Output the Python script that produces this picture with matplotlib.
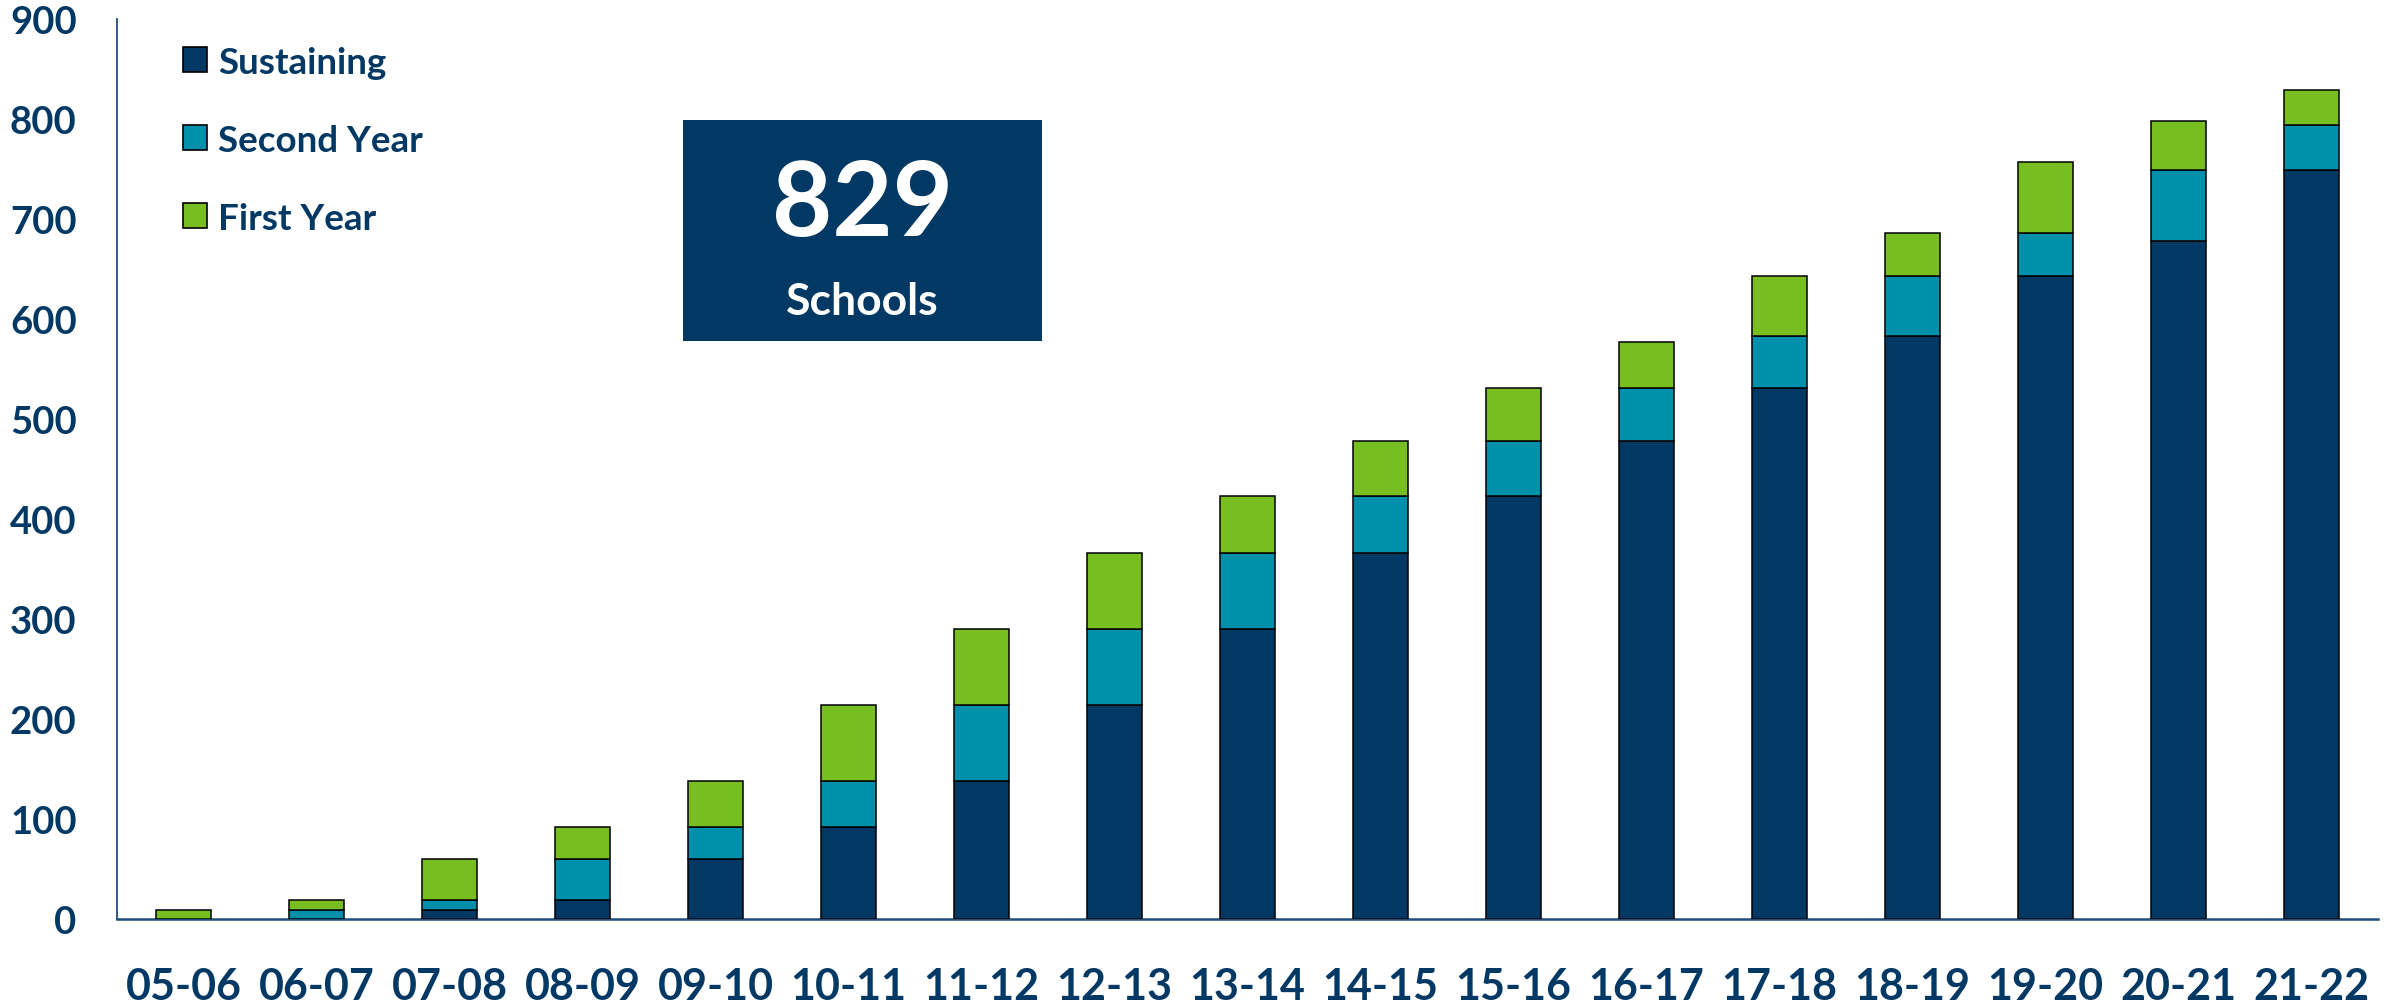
import matplotlib
matplotlib.use("Agg")
import matplotlib.pyplot as plt
import numpy as np
from matplotlib.patches import Patch, Rectangle

years = ["05-06", "06-07", "07-08", "08-09", "09-10", "10-11", "11-12", "12-13",
         "13-14", "14-15", "15-16", "16-17", "17-18", "18-19", "19-20", "20-21", "21-22"]
sustaining = [0, 0, 9, 19, 60, 92, 138, 214, 290, 366, 423, 478, 531, 583, 643, 678, 749]
second_year = [0, 9, 10, 41, 32, 46, 76, 76, 76, 57, 55, 53, 52, 60, 43, 71, 45]
first_year = [9, 10, 41, 32, 46, 76, 76, 76, 57, 55, 53, 46, 60, 43, 71, 49, 35]
series_names = ["Sustaining", "Second Year", "First Year"]
y_ticks = [0, 100, 200, 300, 400, 500, 600, 700, 800, 900]
total_label = "829"
total_sub = "Schools"

NAVY = "#023864"
TEAL = "#0090AC"
GREEN = "#78BE20"
TEXT = "#023864"
FONT = "Lato"

plt.rcParams['font.family'] = [FONT, 'DejaVu Sans']

fig = plt.figure(figsize=(23.92, 10.04), dpi=100)
W, H = 2392, 1004
ax = fig.add_axes([117 / W, 1 - 920 / H, (2378 - 117) / W, 900 / H])

x = np.arange(len(years))
s = np.array(sustaining)
sy = np.array(second_year)
fy = np.array(first_year)
bw = 0.41
ec = "#000000"
lw = 1.1
ax.bar(x, s, bw, color=NAVY, edgecolor=ec, linewidth=lw, zorder=3)
ax.bar(x, sy, bw, bottom=s, color=TEAL, edgecolor=ec, linewidth=lw, zorder=3)
ax.bar(x, fy, bw, bottom=s + sy, color=GREEN, edgecolor=ec, linewidth=lw, zorder=3)

ax.set_xlim(-0.5, len(years) - 0.5)
ax.set_ylim(0, 900)
ax.set_yticks(y_ticks)
ax.set_yticklabels([str(v) for v in y_ticks])
ax.set_xticks(x)
ax.set_xticklabels(years)
ax.tick_params(axis='y', length=0, pad=29, labelsize=27.5, labelcolor=TEXT)
ax.tick_params(axis='x', length=0, pad=34, labelsize=31, labelcolor=TEXT)
for lab in ax.get_xticklabels() + ax.get_yticklabels():
    lab.set_fontweight('bold')

for sp in ['top', 'right']:
    ax.spines[sp].set_visible(False)
ax.spines['left'].set_color("#1F4E79")
ax.spines['left'].set_linewidth(1.3)
ax.spines['bottom'].set_color("#1F4E79")
ax.spines['bottom'].set_linewidth(1.8)

handles = [Patch(facecolor=c, edgecolor=ec, linewidth=1.2) for c in (NAVY, TEAL, GREEN)]
leg = fig.legend(handles, series_names, loc='upper left',
                 bbox_to_anchor=(168 / W, 1 - 32 / H), frameon=False,
                 prop={'family': FONT, 'weight': 'bold', 'size': 26.5},
                 handlelength=0.66, handleheight=0.66, handletextpad=0.3,
                 labelspacing=1.22, borderaxespad=0)
for t in leg.get_texts():
    t.set_color(TEXT)

# Highlight box
box = Rectangle((683 / W, 1 - 342 / H), (1042 - 683) / W, (342 - 121) / H,
                transform=fig.transFigure, facecolor=NAVY, edgecolor='none', zorder=5)
fig.patches.append(box)
cx = (683 + 1042) / 2 / W
fig.text(cx, 1 - 206 / H, total_label, ha='center', va='center', color='white',
         fontsize=75, fontweight='bold', family=FONT, zorder=6)
fig.text(cx, 1 - 302 / H, total_sub, ha='center', va='center', color='white',
         fontsize=32, fontweight='bold', family=FONT, zorder=6)

fig.savefig("out.png", dpi=100)
